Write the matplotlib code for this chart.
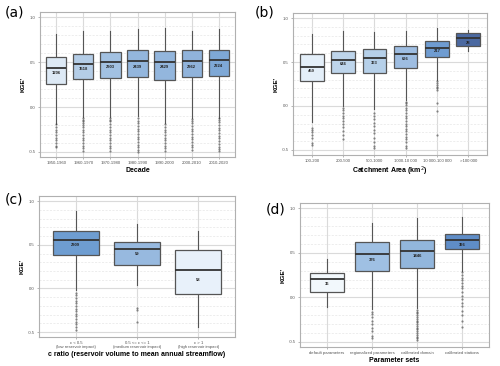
import matplotlib
matplotlib.use("Agg")
import matplotlib.pyplot as plt
from matplotlib.ticker import MultipleLocator

plt.rcParams["font.family"] = ["Liberation Sans", "DejaVu Sans"]

# (a) decade
decades = ["1950-1960", "1960-1970", "1970-1980", "1980-1990", "1990-2000", "2000-2010", "2010-2020"]
dec_q1 = [0.26, 0.31, 0.32, 0.33, 0.30, 0.33, 0.34]
dec_med = [0.43, 0.48, 0.50, 0.515, 0.505, 0.51, 0.52]
dec_q3 = [0.556, 0.593, 0.611, 0.637, 0.626, 0.63, 0.637]
dec_lo = [-0.19, -0.11, -0.11, -0.10, -0.18, -0.12, -0.12]
dec_hi = [0.815, 0.85, 0.85, 0.87, 0.88, 0.85, 0.87]
dec_n = [1206, 1518, 2303, 2439, 2429, 2362, 2224]
dec_mean = [0.374, 0.42, 0.45, 0.45, 0.45, 0.45, 0.46]
dec_out = [
    [-0.19, -0.22, -0.25, -0.28, -0.31, -0.34, -0.37, -0.40, -0.43, -0.44],
    [-0.12, -0.14, -0.16, -0.18, -0.20, -0.22, -0.25, -0.28, -0.31, -0.34, -0.37, -0.40, -0.43, -0.46, -0.49],
    [-0.12, -0.14, -0.16, -0.19, -0.22, -0.25, -0.28, -0.31, -0.34, -0.37, -0.40, -0.43, -0.46, -0.49],
    [-0.12, -0.15, -0.18, -0.21, -0.24, -0.27, -0.30, -0.33, -0.36, -0.39, -0.42, -0.45, -0.48, -0.50],
    [-0.19, -0.22, -0.25, -0.28, -0.31, -0.34, -0.37, -0.40, -0.43, -0.46, -0.49],
    [-0.13, -0.15, -0.18, -0.21, -0.24, -0.27, -0.30, -0.33, -0.36, -0.39, -0.42, -0.45, -0.48],
    [-0.12, -0.14, -0.17, -0.20, -0.23, -0.26, -0.29, -0.32, -0.35, -0.38, -0.41, -0.44, -0.47, -0.49],
]
dec_colors = ["#dde9f5", "#b4cde7", "#a2c1e2", "#93b6dd", "#93b6dd", "#90b3db", "#7ea8d6"]

# (b) catchment area
areas = ["100-200", "200-500", "500-1000", "1000-10 000", "10 000-100 000", ">100 000"]
area_q1 = [0.285, 0.37, 0.37, 0.437, 0.556, 0.678]
area_med = [0.444, 0.526, 0.548, 0.593, 0.659, 0.77]
area_q3 = [0.593, 0.622, 0.644, 0.681, 0.737, 0.833]
area_lo = [-0.185, 0.0, -0.04, 0.07, 0.29, 0.63]
area_hi = [0.815, 0.85, 0.84, 0.85, 0.89, 0.86]
area_n = [459, 646, 363, 696, 217, 28]
area_mean = [0.40, 0.478, 0.49, 0.54, 0.625, 0.72]
area_out = [
    [-0.25, -0.27, -0.30, -0.33, -0.36, -0.42, -0.44],
    [-0.02, -0.05, -0.08, -0.11, -0.14, -0.17, -0.20, -0.24, -0.28, -0.33, -0.38],
    [-0.08, -0.11, -0.15, -0.19, -0.23, -0.27, -0.31, -0.36, -0.41, -0.45, -0.48],
    [0.05, 0.03, 0.01, -0.02, -0.05, -0.08, -0.11, -0.14, -0.17, -0.20, -0.23, -0.26, -0.29, -0.32, -0.35, -0.38, -0.41, -0.45, -0.48],
    [0.28, 0.26, 0.24, 0.22, 0.20, 0.18, 0.03, -0.06, -0.33],
    [],
]
area_colors = ["#e4eff9", "#bed5eb", "#b6d0e9", "#9ebde1", "#6f9cd1", "#4b69a1"]

# (c) c ratio
cratio = ["c < 0.5\n(low reservoir impact)", "0.5 <= c <= 1\n(medium reservoir impact)", "c > 1\n(high reservoir impact)"]
c_q1 = [0.384, 0.271, -0.058]
c_med = [0.554, 0.453, 0.209]
c_q3 = [0.659, 0.535, 0.438]
c_lo = [-0.02, 0.04, -0.446]
c_hi = [0.89, 0.74, 0.66]
c_n = [2309, 59, 58]
c_mean = [0.50, 0.40, 0.097]
c_out = [
    [-0.05, -0.08, -0.11, -0.14, -0.17, -0.20, -0.23, -0.26, -0.29, -0.32, -0.35, -0.38, -0.41, -0.44, -0.47],
    [-0.22, -0.25, -0.38],
    [],
]
c_colors = ["#6e9dd1", "#97b9df", "#e8f1fa"]

# (d) parameter sets
params = ["default parameters", "regionalized parameters", "calibrated domain", "calibrated stations"]
p_q1 = [0.06, 0.297, 0.331, 0.545]
p_med = [0.203, 0.485, 0.519, 0.639]
p_q3 = [0.274, 0.617, 0.639, 0.71]
p_lo = [-0.11, -0.13, -0.12, 0.30]
p_hi = [0.43, 0.83, 0.89, 0.895]
p_n = [36, 376, 1446, 396]
p_mean = [0.154, 0.417, 0.462, 0.583]
p_out = [
    [],
    [-0.16, -0.19, -0.22, -0.26, -0.30, -0.34, -0.38, -0.43, -0.46],
    [-0.14, -0.16, -0.18, -0.20, -0.22, -0.24, -0.26, -0.28, -0.30, -0.32, -0.34, -0.36, -0.38, -0.40, -0.42, -0.44, -0.46, -0.48],
    [0.28, 0.25, 0.22, 0.19, 0.16, 0.13, 0.10, 0.06, 0.02, -0.02, -0.06, -0.10, -0.15, -0.20, -0.26, -0.33],
]
p_colors = ["#f2f8fc", "#9fc0e3", "#92b6dc", "#5f8dc7"]


def draw_panel(ax, labels, q1, med, q3, lo, hi, out, n, mean, colors, xlabel):
    stats = []
    for i in range(len(labels)):
        stats.append(dict(q1=q1[i], med=med[i], q3=q3[i], whislo=lo[i], whishi=hi[i], fliers=out[i]))
    pos = list(range(1, len(labels) + 1))
    bp = ax.bxp(stats, positions=pos, widths=0.75, patch_artist=True, showcaps=False,
                boxprops=dict(edgecolor="#555555", linewidth=0.9),
                medianprops=dict(color="#333333", linewidth=1.3),
                whiskerprops=dict(color="#555555", linewidth=0.8),
                flierprops=dict(marker="o", markersize=1.6, markerfacecolor="#444444",
                                markeredgecolor="none", alpha=0.6))
    for patch, c in zip(bp["boxes"], colors):
        patch.set_facecolor(c)
        patch.set_zorder(3)
    for line in bp["medians"]:
        line.set_zorder(4)
    for p, v, m in zip(pos, n, mean):
        ax.text(p, m, str(v), ha="center", va="center", fontsize=3.0, fontweight="bold",
                color="#222222", zorder=5)
    ax.set_xlim(0.4, len(labels) + 0.6)
    ax.set_ylim(-0.556, 1.056)
    ax.set_xticks(pos)
    ax.set_xticklabels(labels, fontsize=3.1, color="#555555", linespacing=1.0)
    ax.yaxis.set_minor_locator(MultipleLocator(0.1))
    ax.set_yticks([-0.5, 0.0, 0.5, 1.0])
    ax.set_yticklabels(["-0.5", "0.0", "0.5", "1.0"], fontsize=3.1, color="#555555")
    ax.tick_params(axis="both", length=1.5, width=0.5, color="#999999", pad=1.5)
    ax.tick_params(axis="y", which="minor", length=0)
    ax.grid(True, which="major", color="#dadada", linewidth=0.8, zorder=0)
    ax.grid(True, which="minor", axis="y", color="#e6e6e6", linewidth=0.5, linestyle=(0, (3, 2)), zorder=0)
    ax.set_axisbelow(True)
    for s in ax.spines.values():
        s.set_color("#b0b0b0")
        s.set_linewidth(0.8)
    ax.set_ylabel("KGE'", fontsize=4.6, fontweight="bold", labelpad=2)
    ax.set_xlabel(xlabel, fontsize=5.0, fontweight="bold", labelpad=1)


fig = plt.figure(figsize=(5, 3.66), dpi=100)
ax_a = fig.add_axes([0.08, 0.571, 0.39, 0.396])
ax_b = fig.add_axes([0.586, 0.577, 0.388, 0.387])
ax_c = fig.add_axes([0.078, 0.079, 0.392, 0.385])
ax_d = fig.add_axes([0.60, 0.052, 0.378, 0.393])

draw_panel(ax_a, decades, dec_q1, dec_med, dec_q3, dec_lo, dec_hi, dec_out, dec_n, dec_mean, dec_colors, "Decade")
draw_panel(ax_b, areas, area_q1, area_med, area_q3, area_lo, area_hi, area_out, area_n, area_mean, area_colors,
           "Catchment Area (km$^2$)")
draw_panel(ax_c, cratio, c_q1, c_med, c_q3, c_lo, c_hi, c_out, c_n, c_mean, c_colors,
           "c ratio (reservoir volume to mean annual streamflow)")
draw_panel(ax_d, params, p_q1, p_med, p_q3, p_lo, p_hi, p_out, p_n, p_mean, p_colors, "Parameter sets")

fig.text(0.01, 0.965, "(a)", fontsize=10, ha="left", va="center", family="DejaVu Sans")
fig.text(0.51, 0.965, "(b)", fontsize=10, ha="left", va="center", family="DejaVu Sans")
fig.text(0.01, 0.455, "(c)", fontsize=10, ha="left", va="center", family="DejaVu Sans")
fig.text(0.532, 0.428, "(d)", fontsize=10, ha="left", va="center", family="DejaVu Sans")

fig.savefig("out.png", dpi=100)
